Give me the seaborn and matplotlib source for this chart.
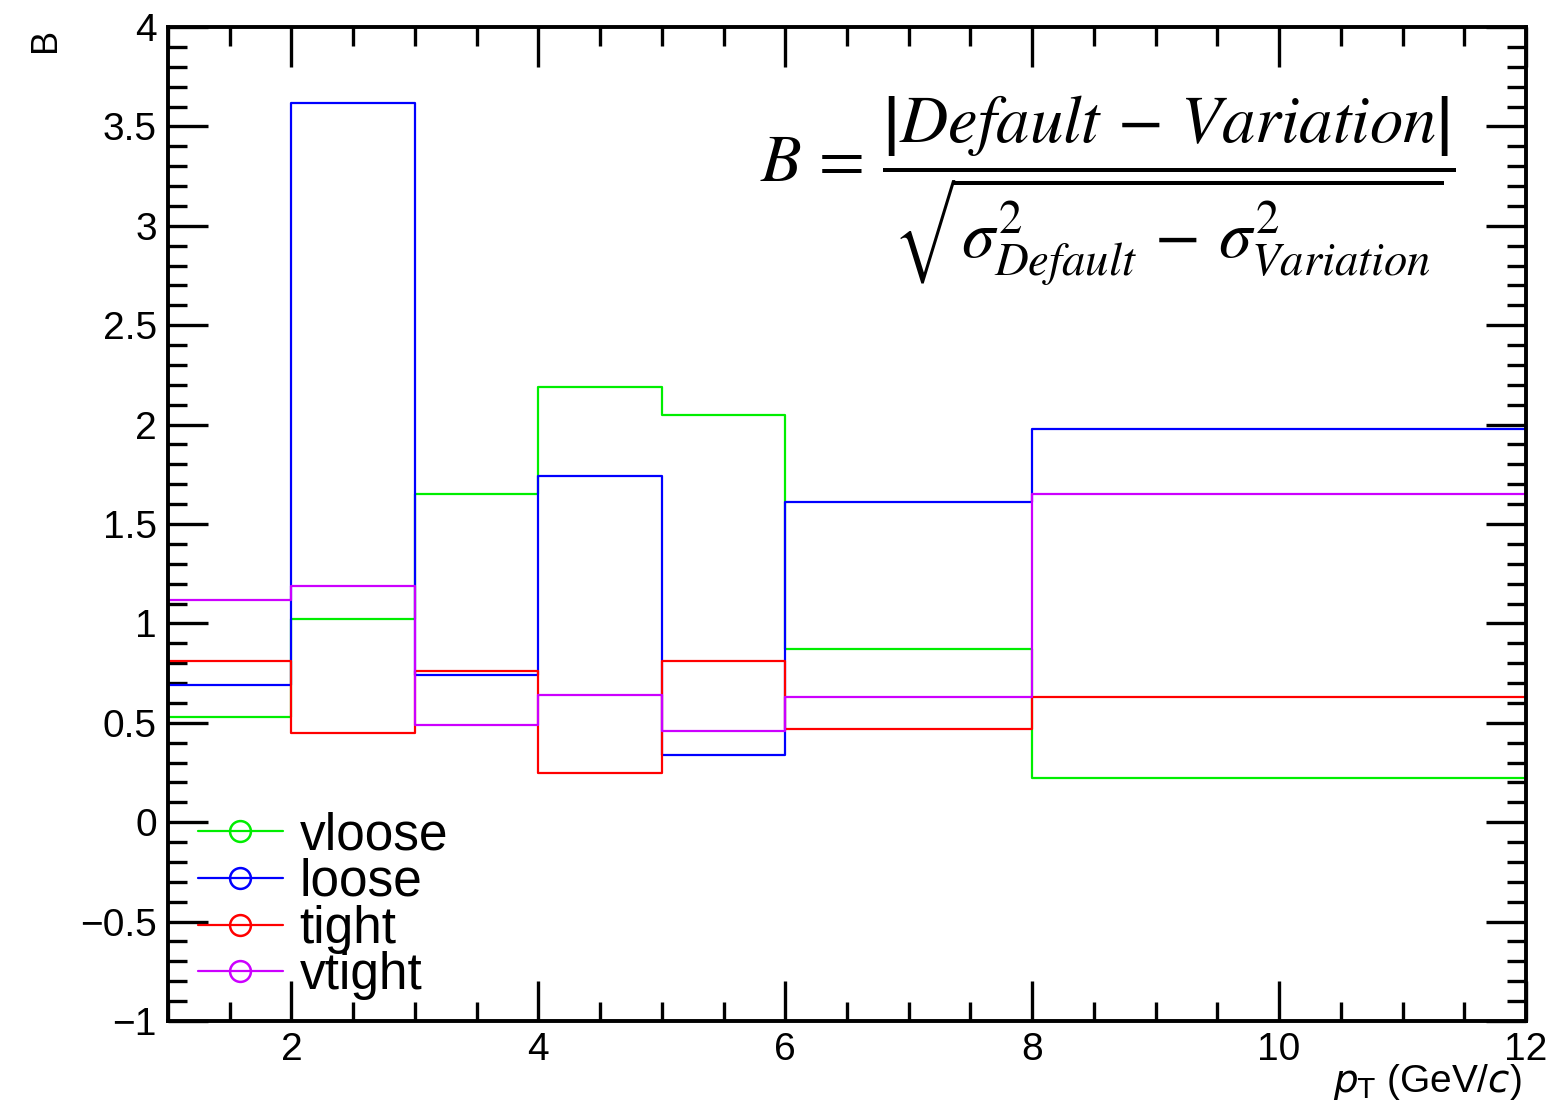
import numpy as np
import pandas as pd
import matplotlib
matplotlib.use("Agg")
import matplotlib.pyplot as plt
import seaborn as sns
from matplotlib.lines import Line2D
from matplotlib.ticker import MultipleLocator

bin_edges = [1, 2, 3, 4, 5, 6, 8, 12]
series_names = ["vloose", "loose", "tight", "vtight"]
vloose = [0.53, 1.02, 1.65, 2.19, 2.05, 0.87, 0.22]
loose = [0.69, 3.62, 0.74, 1.74, 0.34, 1.61, 1.98]
tight = [0.81, 0.45, 0.76, 0.25, 0.81, 0.47, 0.63]
vtight = [1.12, 1.19, 0.49, 0.64, 0.46, 0.63, 1.65]
colors = ["#00ee00", "#0000ff", "#ff0000", "#cc00ff"]

sns.set_theme(style="white")
plt.rcParams["font.family"] = ["Liberation Sans", "DejaVu Sans"]
plt.rcParams["mathtext.fontset"] = "stix"
plt.rcParams["text.color"] = "black"
plt.rcParams["xtick.color"] = "black"
plt.rcParams["ytick.color"] = "black"

fig = plt.figure(figsize=(15.47, 11.13), dpi=100)
ax = fig.add_axes([168 / 1547, 1 - 1021 / 1113, (1526 - 168) / 1547, (1021 - 27) / 1113])

centers = [(bin_edges[i] + bin_edges[i + 1]) / 2 for i in range(len(bin_edges) - 1)]
rows = []
for name, vals in zip(series_names, [vloose, loose, tight, vtight]):
    for c, v in zip(centers, vals):
        rows.append({"pt": c, "B": v, "cut": name})
df = pd.DataFrame(rows)

for name, col in zip(series_names, colors):
    sub = df[df["cut"] == name]
    sns.histplot(data=sub, x="pt", weights="B", bins=bin_edges, element="step",
                 fill=False, color=col, linewidth=1.6, ax=ax)

ax.set_xlim(1, 12)
ax.set_ylim(-1, 4)
ax.xaxis.set_minor_locator(MultipleLocator(0.5))
ax.yaxis.set_minor_locator(MultipleLocator(0.1))
ax.set_yticks([-1, -0.5, 0, 0.5, 1, 1.5, 2, 2.5, 3, 3.5, 4])
ax.set_yticklabels(["\u22121", "\u22120.5", "0", "0.5", "1", "1.5", "2", "2.5", "3", "3.5", "4"])
ax.set_xticks([2, 4, 6, 8, 10, 12])
ax.set_xticklabels(["2", "4", "6", "8", "10", "12"])
ax.tick_params(which="major", direction="in", length=29, width=2.4, labelsize=28,
               top=True, right=True, bottom=True, left=True, color="black", labelcolor="black")
ax.tick_params(which="minor", direction="in", length=14, width=2.4,
               top=True, right=True, bottom=True, left=True, color="black")
ax.tick_params(axis="x", which="major", pad=8)
ax.tick_params(axis="y", which="major", pad=8)
for s in ax.spines.values():
    s.set_linewidth(2.8)
    s.set_color("black")

ax.set_xlabel("")
ax.set_ylabel("")
fig.text(1522 / 1547, 1 - 1082 / 1113, r"$p_{\mathrm{T}}$ (GeV/$c$)", ha="right", va="center",
         fontsize=28, math_fontfamily="dejavusans", color="black")
fig.text(45 / 1547, 1 - 40 / 1113, "B", rotation=90, ha="center", va="center", fontsize=26,
         color="black")

ax.text(0.948, 0.835,
        r"$B\,=\,\dfrac{\left|Default\,-\,Variation\right|}{\sqrt{\sigma^{2}_{Default}\,-\,\sigma^{2}_{Variation}}}$",
        transform=ax.transAxes, ha="right", va="center", fontsize=48, color="black")

handles = [Line2D([0], [0], color=c, lw=1.6, marker="o", markersize=15,
                  markerfacecolor="none", markeredgecolor=c, markeredgewidth=1.8)
           for c in colors]
leg = ax.legend(handles, series_names, loc="upper left", bbox_to_anchor=(0.022, 0.211),
                frameon=False, fontsize=37, handlelength=1.65, handletextpad=0.33,
                labelspacing=-0.045, borderaxespad=0, borderpad=0)
for t in leg.get_texts():
    t.set_color("black")

fig.savefig("out.png", dpi=100, facecolor="white")
